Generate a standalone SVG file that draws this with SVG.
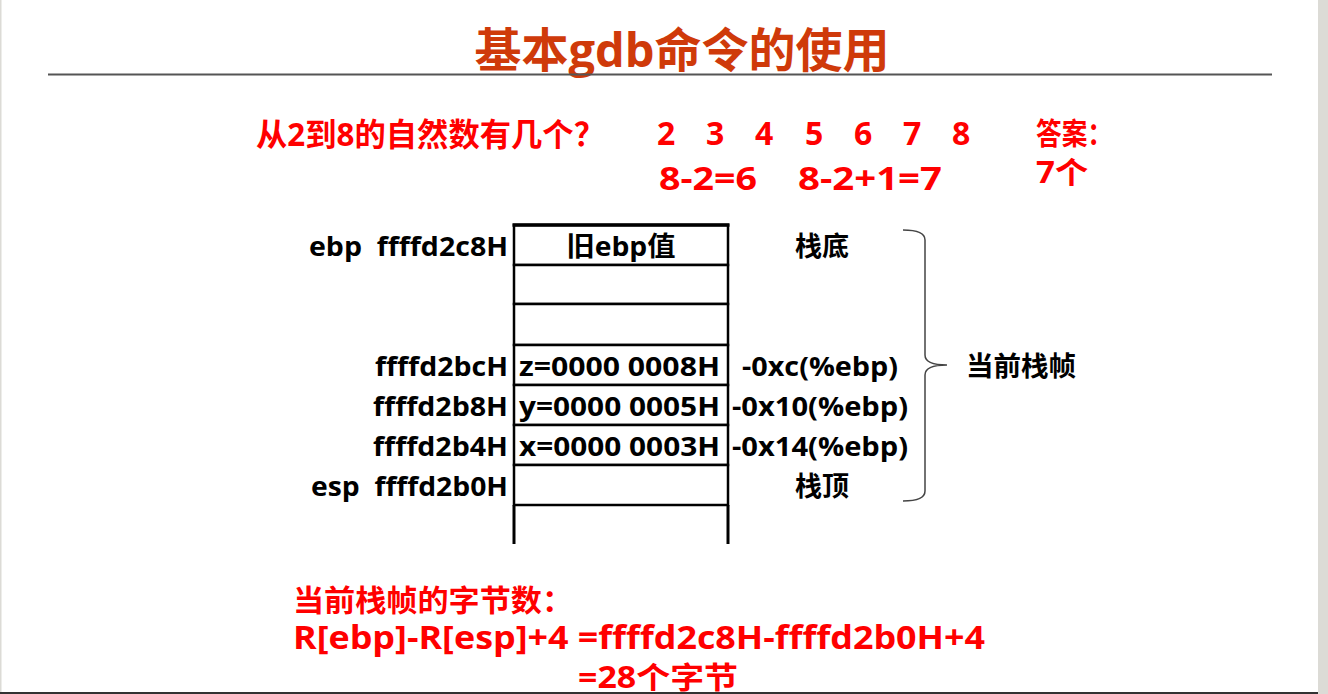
<svg xmlns="http://www.w3.org/2000/svg" width="1328" height="694" viewBox="0 0 1328 694">
  <style>
    .t { font-family: "Open Sans", "Noto Sans CJK SC", sans-serif; font-weight: bold; }
    .red { fill: #ff0000; font-size: 32px; }
    .tight { font-size: 30px; }
    .blk { fill: #000000; font-size: 27px; }
    .cell { fill: #ffffff; stroke: #000000; stroke-width: 2.5; }
    .rail { stroke: #000000; stroke-width: 3; fill: none; }
    .brace { stroke: #444444; stroke-width: 1.5; fill: none; }
  </style>

  <!-- page background and frame -->
  <rect x="0" y="0" width="1328" height="694" fill="#ffffff"/>
  <rect x="1318" y="0" width="10" height="694" fill="#dcdbd6"/>
  <rect x="0" y="0" width="1.5" height="694" fill="#dcdbd6"/>

  <!-- title -->
  <g id="title">
    <text class="t" x="682" y="67" text-anchor="middle" font-size="47" fill="#cf3a0a" textLength="415" lengthAdjust="spacingAndGlyphs">基本gdb命令的使用</text>
    <line x1="48" y1="74.5" x2="1272" y2="74.5" stroke="#555555" stroke-width="2"/>
  </g>

  <!-- question and answer -->
  <g id="question">
    <text class="t red" x="256" y="146" textLength="349" lengthAdjust="spacingAndGlyphs">从2到8的自然数有几个？</text>
    <text class="t red" x="657" y="145">2</text>
    <text class="t red" x="706" y="145">3</text>
    <text class="t red" x="755" y="145">4</text>
    <text class="t red" x="805" y="145">5</text>
    <text class="t red" x="854" y="145">6</text>
    <text class="t red" x="903" y="145">7</text>
    <text class="t red" x="952" y="145">8</text>
    <text class="t red" x="659" y="190" textLength="98" lengthAdjust="spacingAndGlyphs">8-2=6</text>
    <text class="t red" x="798" y="190" textLength="144" lengthAdjust="spacingAndGlyphs">8-2+1=7</text>
  </g>
  <g id="answer">
    <text class="t red tight" x="1036" y="144" textLength="77" lengthAdjust="spacingAndGlyphs">答案：</text>
    <text class="t red tight" x="1036" y="183" textLength="52" lengthAdjust="spacingAndGlyphs">7个</text>
  </g>

  <!-- stack cells -->
  <g id="stack">
    <rect class="cell" x="514" y="225" width="214" height="40"/>
    <rect class="cell" x="514" y="265" width="214" height="39"/>
    <rect class="cell" x="514" y="304" width="214" height="41"/>
    <rect class="cell" x="514" y="345" width="214" height="40"/>
    <rect class="cell" x="514" y="385" width="214" height="40"/>
    <rect class="cell" x="514" y="425" width="214" height="40"/>
    <rect class="cell" x="514" y="465" width="214" height="40"/>
    <line class="rail" x1="514" y1="505" x2="514" y2="544"/>
    <line class="rail" x1="728" y1="505" x2="728" y2="544"/>
    <line x1="512.5" y1="225" x2="729.5" y2="225" stroke="#000" stroke-width="3.5"/>
    <text class="t blk" x="621" y="256" text-anchor="middle" textLength="109" lengthAdjust="spacingAndGlyphs">旧ebp值</text>
    <text class="t blk" x="519" y="376" textLength="201" lengthAdjust="spacingAndGlyphs">z=0000 0008H</text>
    <text class="t blk" x="519" y="416" textLength="201" lengthAdjust="spacingAndGlyphs">y=0000 0005H</text>
    <text class="t blk" x="519" y="456" textLength="201" lengthAdjust="spacingAndGlyphs">x=0000 0003H</text>
  </g>

  <!-- addresses on the left -->
  <g id="addresses">
    <text class="t blk" x="309" y="256" xml:space="preserve" textLength="199" lengthAdjust="spacingAndGlyphs">ebp  ffffd2c8H</text>
    <text class="t blk" x="375" y="376" textLength="133" lengthAdjust="spacingAndGlyphs">ffffd2bcH</text>
    <text class="t blk" x="373" y="416" textLength="135" lengthAdjust="spacingAndGlyphs">ffffd2b8H</text>
    <text class="t blk" x="373" y="456" textLength="135" lengthAdjust="spacingAndGlyphs">ffffd2b4H</text>
    <text class="t blk" x="311" y="496" xml:space="preserve" textLength="197" lengthAdjust="spacingAndGlyphs">esp  ffffd2b0H</text>
  </g>

  <!-- offsets on the right -->
  <g id="offsets">
    <text class="t blk" x="795" y="256" textLength="54" lengthAdjust="spacingAndGlyphs">栈底</text>
    <text class="t blk" x="742" y="376" textLength="156" lengthAdjust="spacingAndGlyphs">-0xc(%ebp)</text>
    <text class="t blk" x="732" y="416" textLength="176" lengthAdjust="spacingAndGlyphs">-0x10(%ebp)</text>
    <text class="t blk" x="732" y="456" textLength="176" lengthAdjust="spacingAndGlyphs">-0x14(%ebp)</text>
    <text class="t blk" x="795" y="496" textLength="54" lengthAdjust="spacingAndGlyphs">栈顶</text>
  </g>

  <!-- brace marking the current frame -->
  <g id="frame-brace">
    <path class="brace" d="M903 230 Q925 230 925 240 L925 355 Q925 365 947 365 Q925 365 925 375 L925 491 Q925 501 903 501"/>
    <text class="t blk" x="966" y="376" textLength="110" lengthAdjust="spacingAndGlyphs">当前栈帧</text>
  </g>

  <!-- frame size calculation -->
  <g id="calc">
    <text class="t red tight" x="293" y="611" textLength="280" lengthAdjust="spacingAndGlyphs">当前栈帧的字节数：</text>
    <text class="t red" x="293" y="649" textLength="692" lengthAdjust="spacingAndGlyphs">R[ebp]-R[esp]+4 =ffffd2c8H-ffffd2b0H+4</text>
    <text class="t red tight" x="578" y="688" textLength="160" lengthAdjust="spacingAndGlyphs">=28个字节</text>
  </g>

  <!-- bottom edge of the page, drawn over the last line -->
  <rect x="0" y="692" width="1318" height="2" fill="#333333"/>
</svg>
